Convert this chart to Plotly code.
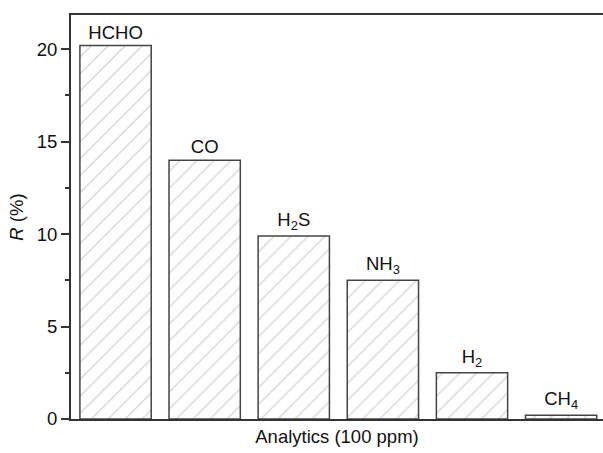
import plotly.graph_objects as go

categories = ["HCHO", "CO", "H<sub>2</sub>S", "NH<sub>3</sub>", "H<sub>2</sub>", "CH<sub>4</sub>"]
values = [20.2, 14.0, 9.9, 7.5, 2.5, 0.2]
yticks = [0, 5, 10, 15, 20]

x = list(range(len(categories)))

fig = go.Figure()
fig.add_trace(go.Bar(
    x=x, y=values, width=0.8,
    marker=dict(color="white", line=dict(color="#444", width=1.5),
                pattern=dict(shape="/", fgcolor="#999", bgcolor="white", size=12, solidity=0.1)),
    text=categories, textposition="outside", cliponaxis=False, constraintext="none",
    textfont=dict(family="Liberation Sans, Arial", size=18.5, color="#111"),
))

fig.update_layout(
    width=603, height=453,
    margin=dict(l=71, r=0, t=15, b=34),
    plot_bgcolor="white", paper_bgcolor="white",
    showlegend=False, bargap=0.2,
    font=dict(family="Liberation Sans, Arial", size=18.5, color="#111"),
    xaxis=dict(range=[-0.5, 5.47], showline=True, linecolor="#333", linewidth=2,
               mirror=True, showticklabels=False, ticks="", showgrid=False, zeroline=False,
               title=dict(text="Analytics (100 ppm)", font=dict(size=18.5), standoff=10)),
    yaxis=dict(range=[0, 21.85], showline=True, linecolor="#333", linewidth=2,
               tickmode="array", tickvals=yticks, ticks="outside", ticklen=8, tickwidth=2,
               tickcolor="#333", showgrid=False, zeroline=False,
               minor=dict(ticks="outside", ticklen=4, tickwidth=2, tickcolor="#333", dtick=2.5),
               tickfont=dict(size=18.5),
               title=dict(text="<i>R</i> (%)", font=dict(size=18.5), standoff=8)),
)

fig.write_html("out.html")
